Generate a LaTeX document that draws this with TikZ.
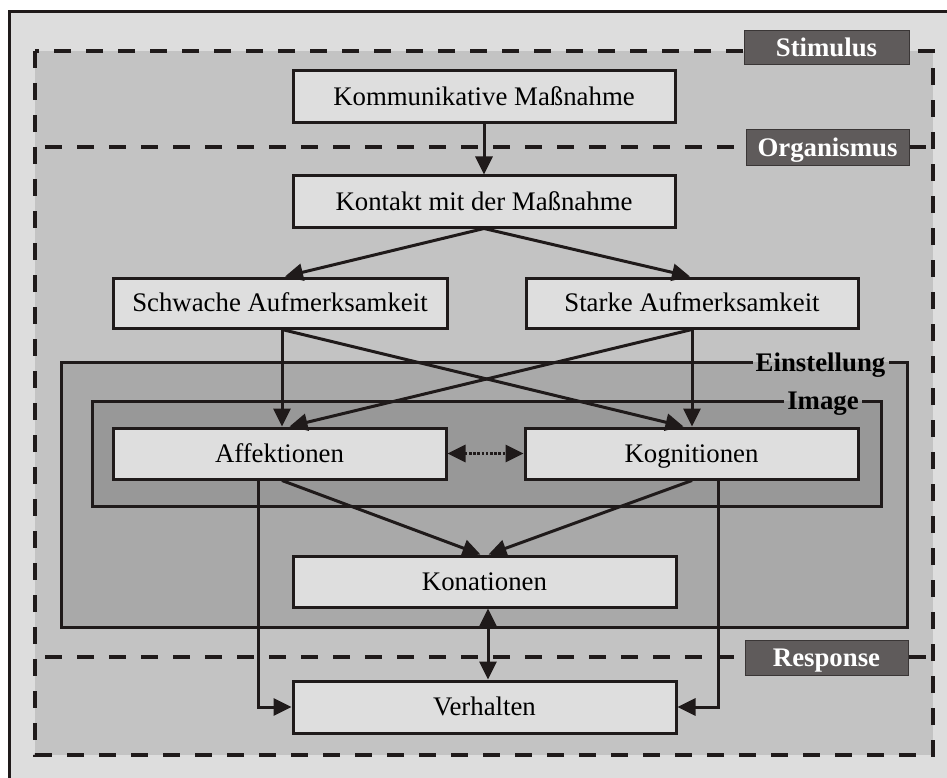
\documentclass[tikz,border=0pt]{standalone}
\usepackage{fontspec}
\setmainfont{Liberation Serif}
\usetikzlibrary{arrows.meta,calc}
\definecolor{outerbg}{HTML}{DDDDDD}
\definecolor{regionbg}{HTML}{C3C3C3}
\definecolor{einstbg}{HTML}{A9A9A9}
\definecolor{imagebg}{HTML}{989898}
\definecolor{nodefill}{HTML}{DEDEDE}
\definecolor{lblfill}{HTML}{5F5B5B}
\definecolor{lblborder}{HTML}{3A3636}
\definecolor{ink}{HTML}{1F1A1A}
\begin{document}
\begin{tikzpicture}[x=1pt,y=-1pt,
  box/.style={draw=ink, line width=3pt, fill=nodefill, inner sep=0pt,
    text height=17.7pt, text depth=0pt,
    font=\fontsize{26.8}{32}\selectfont, text=black},
  lbl/.style={draw=lblborder, line width=1pt, fill=lblfill, text=white,
    text height=17.7pt, text depth=0pt,
    inner sep=0pt, font=\bfseries\fontsize{26.8}{32}\selectfont},
  framelbl/.style={inner xsep=3pt, inner ysep=0pt, text=black,
    font=\bfseries\fontsize{26.8}{32}\selectfont, anchor=base},
  frameline/.style={draw=ink, line width=3pt},
  dashline/.style={draw=ink, line width=4.3pt, dash pattern=on 17pt off 15pt},
  arr/.style={draw=ink, line width=3pt, -{Triangle[length=18pt,width=17pt]}},
  darr/.style={draw=ink, line width=3pt, {Triangle[length=18pt,width=17pt]}-{Triangle[length=18pt,width=17pt]}},
  dotarr/.style={darr, dash pattern=on 2.6pt off 1.6pt}]
\useasboundingbox (0,0) rectangle (947,778);
\clip (0,0) rectangle (947,778);
% background
\fill[white] (0,0) rectangle (947,778);
\draw[draw=ink, line width=3pt, fill=outerbg] (9,12) rectangle (960,795);
% dashed region
\fill[regionbg] (35,51) rectangle (933,755);
\draw[dashline] (35,51) rectangle (933,755);
\draw[dashline] (45,147) -- (933,147);
\draw[dashline] (45,657) -- (933,657);
% Einstellung frame
\coordinate (etl) at (61,362);
\coordinate (etr) at (907,362);
\coordinate (ebr) at (907,627);
\coordinate (ebl) at (61,627);
\fill[einstbg] (etl) rectangle (ebr);
\node[framelbl] (einst) at (820.5,371) {Einstellung};
\draw[frameline] (einst.west |- etl) -- (etl) -- (ebl) -- (ebr) -- (etr) -- (einst.east |- etr);
% Image frame
\coordinate (itl) at (92,401);
\coordinate (itr) at (881,401);
\coordinate (ibr) at (881,506);
\coordinate (ibl) at (92,506);
\fill[imagebg] (itl) rectangle (ibr);
\node[framelbl] (img) at (823,409) {Image};
\draw[frameline] (img.west |- itl) -- (itl) -- (ibl) -- (ibr) -- (itr) -- (img.east |- itr);
% section labels
\node[lbl, minimum width=165pt, minimum height=34pt] (stim) at (826.5,48) {Stimulus};
\node[lbl, minimum width=163pt, minimum height=36pt] (org) at (827.5,148) {Organismus};
\node[lbl, minimum width=163pt, minimum height=35pt] (resp) at (826.5,657.5) {Response};
% boxes
\node[box, minimum width=382pt, minimum height=52pt] (komm) at (484,97) {Kommunikative Maßnahme};
\node[box, minimum width=382pt, minimum height=51pt] (kont) at (484,201.5) {Kontakt mit der Maßnahme};
\node[box, minimum width=334pt, minimum height=50pt] (schw) at (280,303) {Schwache Aufmerksamkeit};
\node[box, minimum width=332pt, minimum height=50pt] (stark) at (692,303) {Starke Aufmerksamkeit};
\node[box, minimum width=333pt, minimum height=51pt] (aff) at (279.5,453.5) {Affektionen};
\node[box, minimum width=333pt, minimum height=51pt] (kog) at (691.5,453.5) {Kognitionen};
\node[box, minimum width=383pt, minimum height=51pt] (kon) at (484.5,581.5) {Konationen};
\node[box, minimum width=383pt, minimum height=52pt] (verh) at (484.5,707) {Verhalten};
% connectors
\draw[arr] (komm.south) -- (kont.north);
\draw[arr] (kont.south) -- ($(schw.north)+(5,0)$);
\draw[arr] (kont.south) -- ($(stark.north)+(-2,0)$);
\draw[arr] ($(schw.south)+(2,0)$) -- ($(aff.north)+(2.5,0)$);
\draw[arr] ($(schw.south)+(2,0)$) -- ($(kog.north)+(-8,0)$);
\draw[arr] (stark.south) -- ($(kog.north)+(0.5,0)$);
\draw[arr] (stark.south) -- ($(aff.north)+(10,0)$);
\draw[dotarr] (aff.east) -- (kog.west);
\draw[arr] ($(aff.south)+(2.5,0)$) -- ($(kon.north)+(-4,0)$);
\draw[arr] ($(kog.south)+(0.5,0)$) -- ($(kon.north)+(4,0)$);
\draw[arr] ($(aff.south)+(-21.5,0)$) |- (verh.west);
\draw[arr] ($(kog.south)+(26.5,0)$) |- (verh.east);
\draw[darr] ($(kon.south)+(3.5,0)$) -- ($(verh.north)+(3.5,0)$);
\end{tikzpicture}
\end{document}
